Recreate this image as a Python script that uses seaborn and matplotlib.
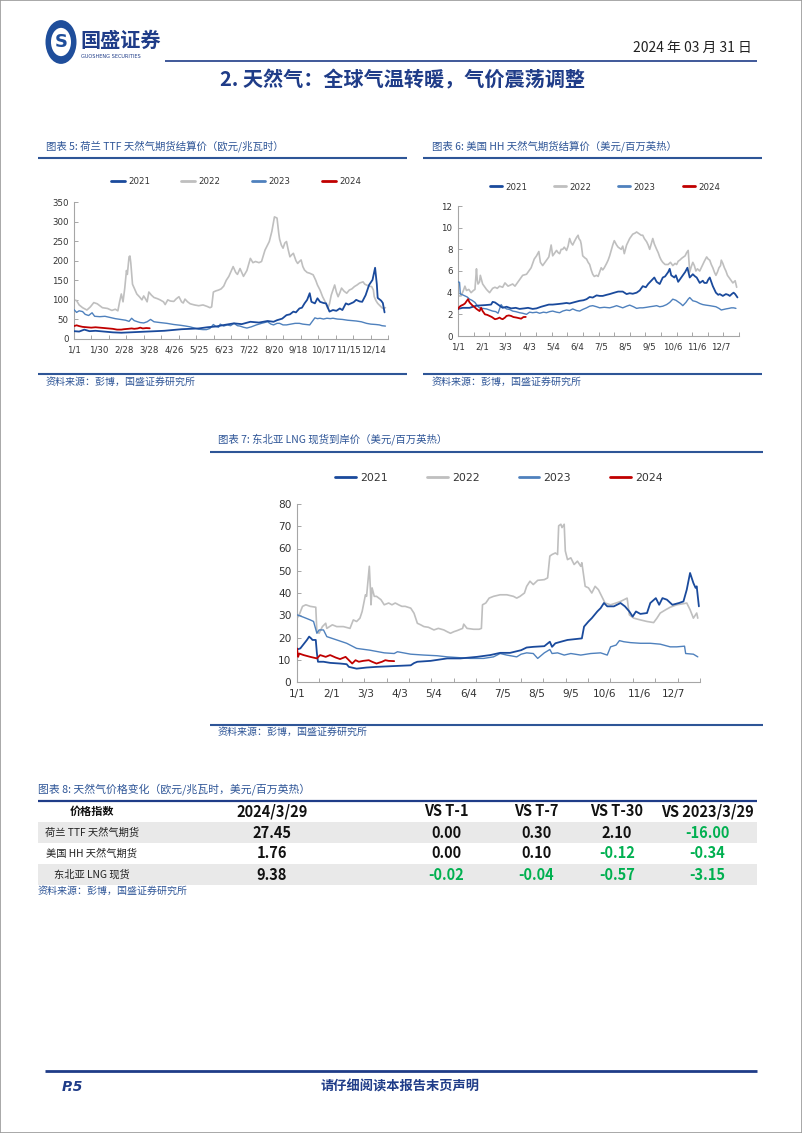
import matplotlib
matplotlib.use('Agg')
import numpy as np
import matplotlib.pyplot as plt
import seaborn as sns
from matplotlib.patches import Circle, Rectangle
from matplotlib.lines import Line2D

# ---------------- data ----------------
YEARS = ['2021', '2022', '2023', '2024']

# Chart 5: TTF (EUR/MWh)
TTF_2021_D = [0, 6, 12, 18, 25, 35, 45, 55, 65, 75, 85, 95, 105, 115, 125, 135, 145, 155, 165, 175, 186, 195, 205, 215, 225, 232, 236, 242, 247, 251, 255, 258, 262, 265, 268, 271, 274, 276, 280, 283, 286, 290, 293, 297, 301, 305, 309, 312, 316, 319, 322, 325, 328, 332, 335, 339, 343, 347, 350, 352, 353, 357, 359, 361]
TTF_2021_V = [20, 19, 24, 20, 21, 19, 17, 16, 17, 18, 19, 20, 21, 23, 25, 26, 27, 30, 32, 36, 40, 38, 44, 42, 46, 44, 48, 52, 61, 63, 70, 68, 78, 80, 91, 100, 117, 95, 91, 104, 95, 92, 91, 70, 74, 72, 78, 74, 91, 88, 91, 94, 100, 96, 95, 112, 138, 151, 182, 140, 105, 98, 92, 68]
TTF_2022_D = [0, 3, 6, 10, 15, 19, 23, 27, 30, 33, 39, 44, 48, 51, 53, 55, 57, 59, 61, 62, 64, 65, 66, 68, 70, 73, 76, 79, 81, 83, 85, 87, 90, 93, 97, 100, 104, 106, 109, 112, 116, 119, 122, 125, 127, 129, 132, 135, 140, 145, 150, 155, 158, 160, 162, 165, 168, 171, 174, 177, 180, 183, 185, 188, 190, 193, 197, 201, 205, 208, 211, 215, 218, 222, 225, 227, 230, 233, 236, 238, 239, 241, 243, 245, 247, 249, 251, 253, 255, 258, 260, 262, 264, 266, 268, 271, 274, 278, 281, 283, 286, 289, 292, 295, 297, 299, 301, 303, 305, 307, 309, 311, 314, 317, 320, 323, 326, 329, 332, 336, 338, 340, 343, 346, 348, 349, 351, 353, 357, 359, 362]
TTF_2022_V = [100, 98, 87, 80, 74, 82, 93, 90, 85, 80, 78, 73, 76, 72, 95, 115, 95, 130, 175, 165, 210, 212, 195, 140, 130, 115, 108, 100, 110, 103, 95, 120, 112, 106, 103, 100, 95, 88, 100, 97, 96, 103, 108, 95, 92, 102, 95, 90, 87, 85, 87, 83, 80, 82, 120, 123, 125, 128, 135, 150, 160, 175, 185, 170, 165, 180, 160, 175, 206, 195, 198, 195, 198, 227, 240, 249, 275, 312, 309, 270, 255, 240, 232, 245, 249, 228, 210, 215, 219, 200, 193, 198, 202, 185, 176, 170, 168, 164, 150, 138, 125, 108, 95, 78, 90, 112, 125, 138, 120, 108, 118, 130, 122, 117, 125, 128, 134, 138, 143, 146, 140, 138, 135, 134, 125, 108, 98, 91, 82, 78, 80]
TTF_2023_D = [0, 3, 6, 10, 13, 17, 21, 24, 30, 36, 42, 48, 54, 60, 64, 67, 70, 74, 77, 81, 85, 89, 93, 100, 108, 116, 124, 130, 135, 140, 145, 150, 154, 158, 162, 165, 168, 170, 174, 178, 182, 186, 190, 193, 197, 201, 206, 212, 218, 225, 229, 232, 236, 239, 243, 247, 252, 257, 262, 266, 270, 274, 277, 280, 283, 286, 290, 294, 298, 301, 306, 312, 318, 323, 328, 334, 340, 345, 351, 355, 358, 362]
TTF_2023_V = [75, 68, 72, 70, 63, 60, 67, 58, 57, 58, 55, 52, 50, 48, 45, 53, 47, 44, 42, 41, 44, 50, 44, 42, 40, 37, 35, 33, 31, 28, 25, 24, 24, 27, 37, 32, 30, 38, 33, 36, 34, 40, 34, 33, 30, 28, 31, 36, 40, 44, 38, 36, 40, 40, 36, 36, 38, 40, 40, 38, 37, 36, 45, 54, 52, 53, 51, 53, 52, 53, 51, 50, 48, 47, 46, 44, 40, 38, 37, 36, 34, 33]
TTF_2024_D = [0, 3, 6, 10, 15, 20, 25, 30, 35, 40, 45, 50, 55, 58, 63, 67, 70, 74, 77, 80, 84, 88]
TTF_2024_V = [33, 35, 33, 31, 30, 29, 30, 29, 28, 27, 26, 24, 24, 25, 26, 27, 26, 27, 29, 27, 28, 27.45]

# Chart 6: Henry Hub (USD/MMBtu)
HH_2021_D = [0, 6, 15, 24, 35, 43, 45, 48, 52, 58, 63, 69, 75, 80, 86, 91, 97, 102, 108, 113, 118, 123, 130, 136, 141, 145, 150, 158, 163, 167, 171, 175, 180, 184, 188, 193, 197, 203, 208, 214, 219, 223, 227, 232, 236, 240, 244, 247, 251, 255, 258, 262, 266, 269, 271, 273, 275, 277, 281, 283, 286, 289, 292, 295, 298, 301, 305, 308, 310, 314, 318, 320, 323, 325, 327, 329, 331, 333, 335, 338, 340, 344, 348, 351, 353, 356, 358, 360, 363]
HH_2021_V = [2.5, 2.6, 2.6, 2.8, 2.85, 2.9, 3.15, 3.1, 2.9, 2.6, 2.7, 2.55, 2.6, 2.5, 2.55, 2.6, 2.5, 2.55, 2.7, 2.8, 2.9, 2.9, 2.95, 3.0, 3.05, 3.0, 3.1, 3.25, 3.3, 3.4, 3.6, 3.55, 3.75, 3.7, 3.7, 3.8, 3.87, 4.0, 4.1, 4.1, 3.87, 3.95, 3.9, 4.0, 4.2, 4.6, 4.5, 4.8, 5.1, 5.4, 5.0, 4.8, 5.4, 5.5, 5.7, 5.9, 6.2, 5.6, 5.4, 5.6, 5.0, 5.3, 5.6, 5.9, 6.3, 5.4, 5.7, 5.5, 5.4, 4.9, 5.1, 4.9, 4.9, 5.2, 5.4, 5.0, 4.6, 4.3, 4.0, 3.8, 3.87, 3.7, 3.87, 3.8, 3.7, 3.9, 4.0, 3.87, 3.56]
HH_2022_D = [0, 1, 4, 7, 9, 11, 14, 17, 20, 22, 24, 25, 26, 28, 29, 32, 35, 37, 41, 45, 48, 51, 54, 58, 61, 65, 68, 71, 74, 78, 81, 84, 89, 92, 95, 99, 102, 105, 107, 110, 113, 115, 118, 121, 123, 125, 128, 130, 132, 134, 136, 138, 141, 143, 145, 147, 149, 151, 154, 156, 157, 159, 160, 162, 165, 167, 169, 171, 173, 175, 177, 180, 182, 184, 186, 188, 190, 193, 195, 197, 199, 201, 203, 206, 208, 210, 212, 214, 216, 219, 221, 223, 225, 227, 230, 232, 234, 236, 238, 240, 242, 245, 247, 249, 251, 253, 255, 258, 260, 262, 264, 266, 269, 273, 276, 279, 282, 284, 286, 288, 291, 293, 295, 297, 299, 301, 303, 305, 307, 309, 311, 314, 316, 318, 320, 323, 325, 327, 329, 331, 333, 335, 337, 339, 341, 342, 344, 346, 348, 350, 353, 355, 357, 360, 362]
HH_2022_V = [3.8, 3.7, 3.7, 4.2, 4.6, 4.2, 4.3, 4.0, 4.2, 4.3, 6.2, 5.2, 4.8, 5.0, 5.6, 4.8, 4.5, 4.3, 4.0, 4.4, 4.5, 4.4, 4.6, 4.5, 4.9, 4.6, 4.7, 4.8, 4.6, 5.0, 5.3, 5.6, 5.7, 6.0, 6.3, 7.1, 7.4, 7.8, 6.8, 6.5, 6.8, 7.0, 7.3, 8.4, 7.4, 7.6, 7.9, 7.7, 7.6, 8.0, 8.0, 8.2, 7.9, 8.3, 9.0, 8.6, 8.4, 8.7, 9.1, 9.3, 9.0, 8.8, 8.5, 7.4, 7.2, 7.1, 6.8, 6.6, 6.1, 5.7, 5.5, 5.6, 5.5, 5.9, 6.3, 6.1, 6.3, 6.7, 7.0, 7.4, 7.9, 8.4, 8.8, 8.4, 8.2, 8.1, 8.0, 8.3, 7.6, 8.4, 8.7, 9.0, 9.2, 9.4, 9.5, 9.6, 9.5, 9.4, 9.3, 9.3, 9.0, 8.7, 8.4, 8.0, 8.5, 9.0, 8.5, 8.0, 7.7, 7.3, 7.0, 6.8, 6.6, 6.6, 6.8, 6.5, 6.7, 6.6, 6.9, 7.0, 7.2, 7.3, 7.4, 7.7, 7.9, 5.9, 6.4, 6.8, 6.5, 6.0, 6.2, 6.0, 6.3, 6.6, 6.9, 7.3, 7.1, 7.0, 6.6, 6.3, 5.9, 5.6, 5.9, 6.3, 6.5, 7.0, 6.7, 6.3, 6.0, 5.6, 5.3, 5.1, 4.9, 5.1, 4.5]
HH_2023_D = [0, 2, 3, 6, 9, 12, 15, 18, 22, 25, 28, 32, 37, 41, 45, 49, 52, 54, 56, 58, 61, 63, 67, 71, 75, 80, 84, 89, 93, 97, 102, 106, 111, 115, 119, 123, 128, 132, 136, 141, 145, 149, 154, 158, 162, 167, 171, 175, 180, 184, 190, 197, 202, 206, 210, 214, 219, 223, 228, 232, 236, 240, 245, 249, 254, 258, 262, 266, 271, 275, 279, 283, 286, 289, 292, 296, 299, 301, 303, 305, 308, 310, 314, 318, 322, 327, 331, 335, 339, 342, 345, 348, 352, 355, 358, 361]
HH_2023_V = [5.0, 4.95, 3.87, 3.8, 3.7, 3.6, 3.4, 3.3, 3.1, 2.8, 2.6, 2.55, 2.5, 2.4, 2.3, 2.25, 2.1, 2.5, 2.9, 2.7, 2.6, 2.5, 2.45, 2.3, 2.25, 2.15, 2.1, 2.0, 2.2, 2.15, 2.2, 2.1, 2.2, 2.15, 2.25, 2.3, 2.2, 2.15, 2.3, 2.4, 2.35, 2.5, 2.35, 2.3, 2.45, 2.6, 2.75, 2.8, 2.7, 2.6, 2.65, 2.6, 2.7, 2.8, 2.7, 2.6, 2.75, 2.85, 2.7, 2.55, 2.6, 2.6, 2.65, 2.7, 2.75, 2.8, 2.7, 2.75, 2.9, 3.1, 3.4, 3.3, 3.15, 3.0, 2.8, 3.1, 3.4, 3.55, 3.4, 3.25, 3.2, 3.15, 3.0, 2.9, 2.85, 2.8, 2.75, 2.7, 2.55, 2.4, 2.45, 2.5, 2.55, 2.6, 2.6, 2.55]
HH_2024_D = [0, 2, 4, 7, 9, 11, 13, 15, 17, 19, 21, 24, 26, 28, 30, 32, 35, 38, 41, 44, 48, 51, 54, 56, 58, 61, 63, 66, 69, 72, 76, 79, 82, 85, 88]
HH_2024_V = [2.5, 2.7, 2.8, 2.9, 3.0, 3.2, 3.4, 3.1, 2.95, 2.8, 2.7, 2.5, 2.4, 2.3, 2.6, 2.3, 2.0, 1.95, 1.85, 1.75, 1.55, 1.6, 1.7, 1.6, 1.55, 1.7, 1.85, 1.9, 1.85, 1.75, 1.7, 1.65, 1.6, 1.75, 1.76]

# Chart 7: NE Asia LNG (USD/MMBtu)
LNG_2021_D = [0, 3, 6, 9, 11, 13, 14, 17, 18, 19, 24, 30, 39, 45, 47, 54, 63, 72, 85, 103, 106, 109, 121, 136, 148, 163, 175, 184, 193, 203, 208, 214, 224, 229, 231, 234, 239, 245, 258, 260, 264, 267, 272, 275, 278, 281, 287, 293, 297, 301, 304, 307, 311, 317, 320, 325, 328, 331, 335, 340, 346, 350, 353, 356, 359, 361, 362, 364]
LNG_2021_V = [14.6, 15.1, 17, 18.9, 20.4, 19.5, 18.9, 18.9, 13.1, 9.1, 9.1, 8.6, 8.3, 8.0, 6.8, 6.0, 6.5, 6.8, 7.1, 7.5, 8.5, 9.1, 9.5, 10.6, 10.6, 11.3, 12.1, 13.1, 13.1, 14.3, 15.5, 15.8, 16.1, 18.1, 15.8, 17.4, 18.1, 18.9, 19.6, 24.9, 27.2, 28.7, 31.7, 33.2, 35.5, 34, 34, 35.5, 34, 31.7, 29.4, 31.7, 30.6, 31, 35.5, 37.7, 34.7, 37.7, 37, 34.7, 35.5, 36.2, 41.5, 49, 44.5, 42.3, 43, 34]
LNG_2022_D = [0, 2, 5, 8, 12, 17, 18, 20, 23, 26, 27, 32, 36, 42, 48, 51, 54, 57, 59, 62, 63, 65.5, 66.5, 67, 68, 70, 72, 76, 79, 83, 86, 89, 92, 95, 98, 103, 106, 109, 112, 115, 119, 124, 128, 133, 136, 139, 142, 145, 150, 151, 154, 160, 165, 167, 168, 171, 174, 178, 184, 190, 196, 199, 202, 206, 208, 211, 214, 218, 224, 227, 229, 231, 234, 236, 237, 239, 240, 242, 243, 245, 248, 251, 254, 257, 258, 261, 264, 267, 270, 273, 276, 279, 284, 289, 293, 299, 301, 305, 311, 317, 323, 326, 329, 334, 338, 344, 350, 353, 356, 359, 362, 363]
LNG_2022_V = [28.7, 30.2, 34, 34.7, 34, 33.6, 22.6, 21.9, 24.9, 26.4, 24.1, 25.7, 24.9, 24.9, 24.1, 27.9, 27.2, 28.7, 31.7, 39.2, 38.5, 52, 41.5, 34.7, 42.3, 38.5, 38.5, 37, 34.7, 35.5, 34.7, 35.5, 34.7, 34, 34, 33.2, 30.9, 26.4, 25.7, 24.9, 24.6, 23.4, 24.1, 23.4, 22.6, 21.9, 22.6, 23.1, 24.1, 26, 24.1, 23.7, 23.7, 24.1, 34.7, 35.5, 37.7, 38.5, 39.2, 39.2, 38.5, 37.7, 38.5, 40, 43, 45.3, 43.8, 45.7, 46, 46.8, 56.6, 57.3, 58, 57.3, 70.2, 70.9, 69.4, 70.9, 58.9, 55, 55.8, 52.8, 54.3, 52, 53.6, 43, 42.3, 40, 43, 41.5, 38.5, 35.5, 34.7, 35.5, 36.2, 37.7, 30.2, 28.7, 27.9, 27.2, 26.7, 28.7, 31, 32.5, 33.6, 34.7, 35.2, 35.5, 32.5, 28.7, 31, 28.7]
LNG_2023_D = [0, 6, 12, 15, 18, 20, 24, 27, 36, 45, 54, 66, 79, 88, 91, 103, 115, 127, 136, 145, 157, 169, 178, 184, 190, 199, 203, 208, 214, 218, 224, 229, 231, 236, 242, 248, 257, 266, 275, 281, 284, 289, 292, 296, 302, 311, 320, 329, 338, 344, 351, 352, 359, 363]
LNG_2023_V = [30.2, 29.1, 27.9, 27.2, 21.9, 23.4, 23.4, 20.4, 18.9, 17.4, 15.1, 14.3, 13.1, 12.8, 13.6, 12.5, 12.1, 11.8, 11.3, 11.0, 10.6, 10.6, 11.3, 12.8, 12.1, 11.3, 12.5, 13.1, 12.8, 10.6, 13.1, 14.6, 12.8, 13.1, 12.1, 12.8, 12.1, 12.8, 13.1, 12.1, 15.8, 16.6, 18.6, 18.1, 17.7, 17.4, 17.4, 17, 15.8, 15.8, 16.1, 12.8, 12.5, 11.3]
LNG_2024_D = [0, 1, 2, 6, 12, 18, 21, 26, 30, 35, 39, 44, 47, 50, 53, 56, 60, 65, 68, 72, 77, 80, 83, 88]
LNG_2024_V = [15.1, 11.3, 12.8, 12.1, 11.3, 10.6, 12.1, 11.3, 12.1, 11.0, 10.3, 11.3, 9.8, 8.3, 9.8, 9.1, 9.5, 9.8, 9.1, 8.3, 9.1, 9.8, 9.5, 9.38]

TTF_TICKS = ['1/1', '1/30', '2/28', '3/28', '4/26', '5/25', '6/23', '7/22', '8/20', '9/18', '10/17', '11/15', '12/14']
MONTH_TICKS = ['1/1', '2/1', '3/3', '4/3', '5/4', '6/4', '7/5', '8/5', '9/5', '10/6', '11/6', '12/7']

TABLE_HEADER = ['价格指数', '2024/3/29', 'VS T-1', 'VS T-7', 'VS T-30', 'VS 2023/3/29']
TABLE_ROWS = ['荷兰 TTF 天然气期货', '美国 HH 天然气期货', '东北亚 LNG 现货']
TABLE_VALUES = [['27.45', '0.00', '0.30', '2.10', '-16.00'],
                ['1.76', '0.00', '0.10', '-0.12', '-0.34'],
                ['9.38', '-0.02', '-0.04', '-0.57', '-3.15']]

# ---------------- styling ----------------
W, H = 802, 1133
sns.set_theme(style='white')
plt.rcParams['font.family'] = ['DejaVu Sans', 'Noto Sans CJK SC']
CJK = ['Noto Sans CJK SC', 'DejaVu Sans']
NAVY = '#1f3c88'
CAPB = '#2e5597'
COLORS = {'2021': '#1a4a9c', '2022': '#bfbfbf', '2023': '#4f81bd', '2024': '#c00000'}
LW = {'2021': 1.3, '2022': 1.2, '2023': 1.0, '2024': 1.3}
ZO = {'2021': 4, '2022': 2, '2023': 3, '2024': 5}

fig = plt.figure(figsize=(W / 100, H / 100), dpi=100)
fig.patch.set_facecolor('white')


def fx(x):
    return x / W


def fy(y):
    return 1 - y / H


def hline(x0, x1, y, color, lw):
    fig.add_artist(Line2D([fx(x0), fx(x1)], [fy(y), fy(y)], color=color, lw=lw,
                          transform=fig.transFigure, solid_capstyle='butt'))


def txt(x, y, s, **kw):
    kw.setdefault('va', 'center')
    return fig.text(fx(x), fy(y), s, **kw)


def chart(box, series, ylim, ystep, tick_days, tick_labels, fs, leg_xy, leg_fs, leg_hl, leg_cs):
    l, t, r, b = box
    ax = fig.add_axes([fx(l), fy(b), (r - l) / W, (b - t) / H])
    for yr in YEARS:
        d, v = series[yr]
        sns.lineplot(x=d, y=v, ax=ax, color=COLORS[yr], lw=LW[yr], label=yr,
                     estimator=None, sort=False, zorder=ZO[yr])
    ax.set_xlim(0, 365)
    ax.set_ylim(*ylim)
    ax.set_yticks(np.arange(ylim[0], ylim[1] + 0.001, ystep))
    ax.set_xticks(tick_days)
    ax.set_xticklabels(tick_labels)
    ax.set_xticks(np.arange(0, 366, 365 / 18), minor=True)
    ax.set_xlabel('')
    ax.set_ylabel('')
    for s in ['top', 'right']:
        ax.spines[s].set_visible(False)
    for s in ['left', 'bottom']:
        ax.spines[s].set_color('#a6a6a6')
        ax.spines[s].set_linewidth(0.8)
    ax.tick_params(axis='x', which='major', length=0, pad=5, labelsize=fs, colors='#333333')
    ax.tick_params(axis='x', which='minor', direction='in', length=3, width=0.7, color='#a6a6a6', bottom=True)
    ax.tick_params(axis='y', which='major', direction='in', length=3, width=0.7, color='#a6a6a6',
                   pad=4, labelsize=fs, labelcolor='#333333', left=True)
    ax.patch.set_alpha(0)
    ax.legend(ncol=4, loc='center', bbox_to_anchor=(fx(leg_xy[0]), fy(leg_xy[1])),
              bbox_transform=fig.transFigure, frameon=False, fontsize=leg_fs,
              handlelength=leg_hl, handletextpad=0.4, columnspacing=leg_cs,
              borderpad=0, labelcolor='#333333')
    for line in ax.get_legend().get_lines():
        line.set_linewidth(2.0)
    return ax


# ---------------- header ----------------
fig.add_artist(Rectangle((0, 0), 1, 1, transform=fig.transFigure, fill=False,
                         edgecolor='#9a9a9a', lw=1.2))
fig.add_artist(Circle((fx(61), fy(42)), 15.5 / W, transform=fig.transFigure,
                      facecolor='#1f4e9b', edgecolor='none'))
fig.add_artist(Circle((fx(61), fy(42)), 10 / W, transform=fig.transFigure,
                      facecolor='white', edgecolor='none'))
txt(61, 42, 'S', ha='center', fontsize=13, fontweight='bold', color='#1f4e9b')
txt(80, 40, '国盛证券', ha='left', fontsize=14.5, fontweight='bold', color=NAVY, family=CJK)
txt(81, 56, 'GUOSHENG SECURITIES', ha='left', fontsize=3.6, color=NAVY)
txt(752, 48, '2024 年 03 月 31 日', ha='right', fontsize=10, color='#222222', family=CJK)
hline(165, 757, 60.5, NAVY, 1.2)
txt(403, 80, '2. 天然气：全球气温转暖，气价震荡调整', ha='center', fontsize=14.5,
    fontweight='bold', color=NAVY, family=CJK)

# ---------------- chart 5 ----------------
txt(46, 146, '图表 5: 荷兰 TTF 天然气期货结算价（欧元/兆瓦时）', ha='left', fontsize=7.5,
    color=CAPB, family=CJK)
hline(38, 407, 158, CAPB, 1.5)
chart((74, 202, 388, 339),
      {'2021': (TTF_2021_D, TTF_2021_V), '2022': (TTF_2022_D, TTF_2022_V),
       '2023': (TTF_2023_D, TTF_2023_V), '2024': (TTF_2024_D, TTF_2024_V)},
      (0, 350), 50, [29 * i for i in range(13)], TTF_TICKS, 6.2, (236, 182), 6.2, 1.6, 3.6)
hline(38, 407, 373.5, CAPB, 1.5)
txt(46, 381.5, '资料来源：彭博，国盛证券研究所', ha='left', fontsize=7.2, color=CAPB, family=CJK)

# ---------------- chart 6 ----------------
txt(432, 146, '图表 6: 美国 HH 天然气期货结算价（美元/百万英热）', ha='left', fontsize=7.5,
    color=CAPB, family=CJK)
hline(423, 762, 158, CAPB, 1.5)
chart((458, 206, 739, 336),
      {'2021': (HH_2021_D, HH_2021_V), '2022': (HH_2022_D, HH_2022_V),
       '2023': (HH_2023_D, HH_2023_V), '2024': (HH_2024_D, HH_2024_V)},
      (0, 12), 2, [31 * i for i in range(12)], MONTH_TICKS, 6.2, (605, 187), 6.2, 1.4, 3.1)
hline(423, 762, 373.5, CAPB, 1.5)
txt(432, 381.5, '资料来源：彭博，国盛证券研究所', ha='left', fontsize=7.2, color=CAPB, family=CJK)

# ---------------- chart 7 ----------------
txt(218, 439, '图表 7: 东北亚 LNG 现货到岸价（美元/百万英热）', ha='left', fontsize=7.5,
    color=CAPB, family=CJK)
hline(210, 763, 451.5, CAPB, 1.5)
chart((297, 504, 700, 682),
      {'2021': (LNG_2021_D, LNG_2021_V), '2022': (LNG_2022_D, LNG_2022_V),
       '2023': (LNG_2023_D, LNG_2023_V), '2024': (LNG_2024_D, LNG_2024_V)},
      (0, 80), 10, [31 * i for i in range(12)], MONTH_TICKS, 7.6, (499, 478), 7.8, 1.9, 3.6)
hline(210, 763, 724.5, CAPB, 1.5)
txt(218, 732, '资料来源：彭博，国盛证券研究所', ha='left', fontsize=7.2, color=CAPB, family=CJK)

# ---------------- table ----------------
txt(38, 789, '图表 8: 天然气价格变化（欧元/兆瓦时，美元/百万英热）', ha='left', fontsize=7.8,
    color=CAPB, family=CJK)
for top in (822, 864):
    fig.add_artist(Rectangle((fx(38), fy(top + 21)), (757 - 38) / W, 21 / H,
                             transform=fig.transFigure, facecolor='#e9e9e9', edgecolor='none'))
hline(38, 757, 800.5, NAVY, 1.6)
COLX = [92, 272, 446, 536, 617, 707]
ROWY = [833, 853.5, 874.5]
txt(COLX[0], 811.5, TABLE_HEADER[0], ha='center', fontsize=8, fontweight='bold', color='#111111', family=CJK)
for cx, h in zip(COLX[1:], TABLE_HEADER[1:]):
    txt(cx, 811.5, h, ha='center', fontsize=10.5, fontweight='bold', color='#111111', family=CJK)
for ry, name, vals in zip(ROWY, TABLE_ROWS, TABLE_VALUES):
    txt(COLX[0], ry, name, ha='center', fontsize=7.4, color='#222222', family=CJK)
    for j, (cx, v) in enumerate(zip(COLX[1:], vals)):
        col = '#00b050' if (j > 0 and v.startswith('-')) else '#111111'
        txt(cx, ry, v, ha='center', fontsize=10.5, fontweight='bold', color=col, family=CJK)
txt(38, 891, '资料来源：彭博，国盛证券研究所', ha='left', fontsize=7.2, color=CAPB, family=CJK)

# ---------------- footer ----------------
hline(45, 757, 1071, NAVY, 2.0)
txt(62, 1087, 'P.5', ha='left', fontsize=10, fontweight='bold', style='italic', color=NAVY)
txt(400, 1087, '请仔细阅读本报告末页声明', ha='center', fontsize=9.5, fontweight='bold',
    color=NAVY, family=CJK)

fig.savefig('out.png', dpi=100, facecolor='white')
